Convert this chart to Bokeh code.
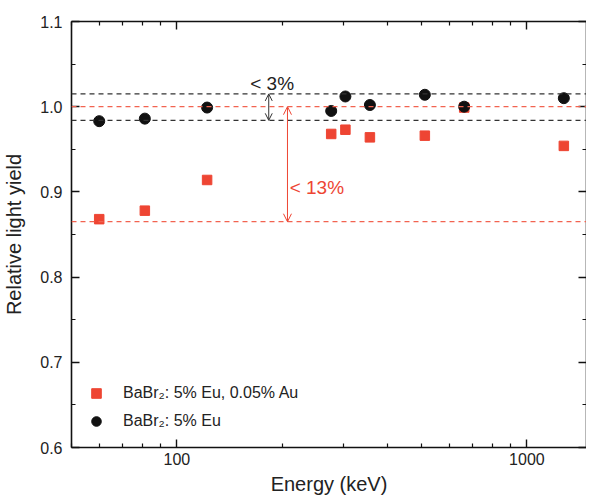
# BaBr2:Eu の光収率のエネルギー依存性 (Au 添加あり/なし) を比較する

# %%
from bokeh.embed import file_html
from bokeh.models import (Arrow, FixedTicker, Label, Legend, LegendItem, LinearAxis,
                          LogAxis, OpenHead, Range1d, Span)
from bokeh.plotting import figure
from bokeh.resources import INLINE

# %%
# 図から読み取った値
energy_kev = [60, 81, 122, 276, 303, 356, 511, 662, 1275]
ly_eu = [0.983, 0.986, 0.999, 0.995, 1.012, 1.002, 1.014, 1.000, 1.010]
ly_eu_au = [0.868, 0.878, 0.914, 0.968, 0.973, 0.964, 0.966, 0.999, 0.954]

label_eu_au = "BaBr₂: 5% Eu, 0.05% Au"
label_eu = "BaBr₂: 5% Eu"

# 破線のレベル (黒: ±3% の幅, 赤: 13% の幅)
black_levels = [1.015, 0.984]
red_levels = [1.0, 0.865]

# 軸の目盛り
x_ticks = [100, 1000]
x_tick_labels = ["100", "1000"]
x_minor = [50, 60, 70, 80, 90, 200, 300, 400, 500, 600, 700, 800, 900]
y_ticks = [0.6, 0.7, 0.8, 0.9, 1.0, 1.1]
y_tick_labels = ["0.6", "0.7", "0.8", "0.9", "1.0", "1.1"]
y_minor = [0.65, 0.75, 0.85, 0.95, 1.05]

FONT = "Liberation Sans"
RED = "#EE4533"
RED_DASH = "#F26350"
BLACK = "#111111"

# %%
p = figure(width=586, height=502, x_axis_type="log",
           x_range=Range1d(50, 1480), y_range=Range1d(0.6, 1.1),
           x_axis_label="Energy (keV)", y_axis_label="Relative light yield",
           output_backend="svg", toolbar_location=None,
           min_border_left=68, min_border_right=0, min_border_top=21, min_border_bottom=55)
p.xgrid.visible = False
p.ygrid.visible = False
p.outline_line_color = None
p.background_fill_color = "white"

p.xaxis.ticker = FixedTicker(ticks=x_ticks, minor_ticks=x_minor)
p.xaxis.major_label_overrides = dict(zip(x_ticks, x_tick_labels))
p.yaxis.ticker = FixedTicker(ticks=y_ticks, minor_ticks=y_minor)
p.yaxis.major_label_overrides = dict(zip(y_ticks, y_tick_labels))

# 上と右にも目盛りだけの軸
top_axis = LogAxis(ticker=FixedTicker(ticks=x_ticks, minor_ticks=x_minor))
right_axis = LinearAxis(ticker=FixedTicker(ticks=y_ticks, minor_ticks=y_minor))
p.add_layout(top_axis, "above")
p.add_layout(right_axis, "right")

for ax in p.axis:
    ax.axis_line_color = BLACK
    ax.axis_line_width = 1.6
    ax.major_tick_line_color = BLACK
    ax.minor_tick_line_color = BLACK
    ax.major_tick_line_width = 1.4
    ax.minor_tick_line_width = 1.2
    ax.major_tick_in = 8
    ax.major_tick_out = 0
    ax.minor_tick_in = 4
    ax.minor_tick_out = 0
    ax.major_label_text_font = FONT
    ax.major_label_text_font_size = "16px"
    ax.major_label_text_color = "#222222"
    ax.axis_label_text_font = FONT
    ax.axis_label_text_font_size = "20px"
    ax.axis_label_text_font_style = "normal"
    ax.axis_label_text_color = "#222222"

for ax in (top_axis, right_axis):
    ax.major_label_text_font_size = "1px"
    ax.major_label_text_color = None
    ax.major_label_standoff = 0

p.xaxis[0].major_label_standoff = 13
p.xaxis[0].axis_label_standoff = 22
p.yaxis[0].major_label_standoff = 9
p.yaxis[0].axis_label_standoff = 12

# %%
# データ点
r_sq = p.scatter(energy_kev, ly_eu_au, marker="square", size=9.5, color=RED)
r_ci = p.scatter(energy_kev, ly_eu, marker="circle", size=11, color=BLACK)

# 破線
for lv in black_levels:
    p.add_layout(Span(location=lv, dimension="width", line_color="#333333",
                      line_dash="5 4", line_width=1.2))
for lv in red_levels:
    p.add_layout(Span(location=lv, dimension="width", line_color=RED_DASH,
                      line_dash="5 4", line_width=1.2))

# 矢印と注釈
p.add_layout(Arrow(start=OpenHead(size=7, line_color="#333333", line_width=1),
                   end=OpenHead(size=7, line_color="#333333", line_width=1),
                   x_start=183, y_start=black_levels[1], x_end=183, y_end=black_levels[0],
                   line_color="#333333", line_width=1))
p.add_layout(Arrow(start=OpenHead(size=8, line_color=RED, line_width=1),
                   end=OpenHead(size=8, line_color=RED, line_width=1),
                   x_start=207, y_start=red_levels[1], x_end=207, y_end=red_levels[0],
                   line_color=RED, line_width=1))
p.add_layout(Label(x=162, y=1.027, text="< 3%", text_baseline="middle",
                   text_font=FONT, text_font_size="19px", text_color="#222222"))
p.add_layout(Label(x=210, y=0.905, text="< 13%", text_baseline="middle",
                   text_font=FONT, text_font_size="19px", text_color=RED))

# 凡例
legend = Legend(items=[LegendItem(label=label_eu_au, renderers=[r_sq]),
                       LegendItem(label=label_eu, renderers=[r_ci])],
                location=(13, 14), border_line_color=None, background_fill_alpha=0,
                padding=0, margin=0, spacing=4, glyph_width=24, glyph_height=24,
                label_standoff=15, label_text_font=FONT, label_text_font_size="16px",
                label_text_color="#222222")
p.add_layout(legend)

open("out.html", "w").write(file_html(p, INLINE))
